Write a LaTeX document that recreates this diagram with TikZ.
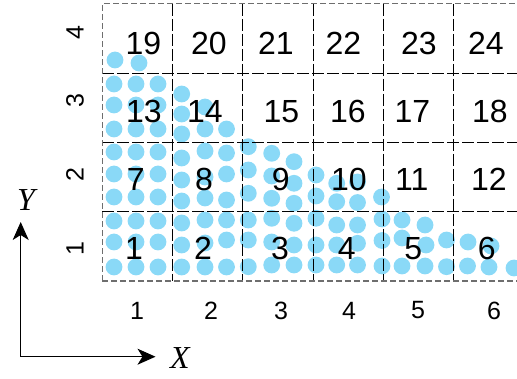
\documentclass[tikz,border=0pt]{standalone}
\usepackage{fontspec}
\setmainfont{Liberation Sans}
\newfontfamily\serifit{Liberation Serif}
\usetikzlibrary{arrows.meta}
\definecolor{dotblue}{HTML}{8AD9F7}
\definecolor{bordergray}{HTML}{6E6E6E}
\tikzset{
  dot/.style={fill=dotblue, draw=none},
  innerline/.style={black, line width=0.8pt, dash pattern=on 12pt off 3pt},
  outerline/.style={bordergray, line width=1.4pt, dash pattern=on 6pt off 3pt},
  cellnum/.style={font=\fontsize{32}{32}\selectfont, inner sep=0pt},
  ticklab/.style={font=\fontsize{25}{25}\selectfont, inner sep=0pt},
  axislab/.style={font=\fontsize{32}{32}\serifit\itshape, inner sep=0pt},
  axisarrow/.style={line width=1pt, -{Stealth[length=18pt, width=16pt, inset=5pt]}}
}
\begin{document}
\begin{tikzpicture}[x=1pt, y=-1pt]
\useasboundingbox (0,0) rectangle (517,379);
% particles
\foreach \px/\py in {115/60, 139/63}
  \fill[dot] (\px,\py) circle (8.4);
\foreach \py in {84,105,129,152,174,197,221,242,267}
  \foreach \px in {114,136,158}
    \fill[dot] (\px,\py) circle (8.4);
\foreach \py in {94,114,134,158,180,201,223,245,267}
  \fill[dot] (181.7,\py) circle (8.4);
\foreach \py in {107,129,151,177,198,220,243,267}
  \fill[dot] (205,\py) circle (8.4);
\foreach \py in {129,153,174,200,220,240,267}
  \fill[dot] (226.5,\py) circle (8.4);
\foreach \px/\py in {248.3/146.7, 248.3/170, 248.3/193.3, 248.3/220, 248.3/240, 248.3/266.7,
  271.7/153.3, 271.7/176, 271.7/198.3, 271.7/218.3, 271.7/242, 271.7/265,
  294/161.7, 294/183.3, 294/203.3, 294/223.3, 294/245, 294/265,
  316/175, 316/196, 316/218.3, 316/245, 316/265,
  336.7/183.3, 336.7/201.7, 336.7/225, 336.7/245, 336.7/265,
  357.5/182, 357.5/202.5, 357.5/225, 357.5/243.3, 357.5/265,
  381.5/197, 382/219, 382/240.5, 382/266,
  402/220, 402/238, 402/266,
  425/225, 426/245, 425/266,
  446.5/240, 446.5/266.7,
  468/242, 491/246, 467.5/266, 489/267, 514/268}
  \fill[dot] (\px,\py) circle (8.4);
% grid
\foreach \gx in {172.3,242.6,312.9,383.2,453.5}
  \draw[innerline] (\gx,4) -- (\gx,281);
\foreach \gy in {73.3,142.6,211.9}
  \draw[innerline] (102,\gy) -- (524,\gy);
\draw[outerline, line width=1pt] (102,281) -- (102,4) -- (524,4);
\draw[outerline] (102,281) -- (524,281);
% cell numbers
\foreach \t/\px/\py in {19/143.3/43.3, 20/209/43.3, 21/275.8/43.3, 22/343.3/43.3, 23/419/43.3, 24/485.8/43.3,
  13/144/111.7, 14/205/111.7, 15/281.5/111.7, 16/348/111.7, 17/412.5/111.7, 18/490/111.7,
  7/135.8/179, 8/204/179, 9/280.8/179, 10/349/179, 11/411.7/179, 12/489/179,
  1/134/248.3, 2/203/248.3, 3/280/248.3, 4/346.7/248.3, 5/413.3/248.3, 6/486.7/248.3}
  \node[cellnum] (c\t) at (\px,\py) {\t};
% tick labels
\foreach \t/\py in {1/249, 2/175, 3/101, 4/33}
  \node[ticklab, rotate=90] (r\t) at (75,\py) {\t};
\foreach \t/\px in {1/137, 2/211, 3/281, 4/349, 5/418, 6/494}
  \node[ticklab] (k\t) at (\px,310.5) {\t};
% axes
\coordinate (o) at (20.7,356.7);
\coordinate (ytip) at (20.7,222);
\coordinate (xtip) at (155.5,356.7);
\draw[axisarrow] (o) -- (ytip);
\draw[axisarrow] (o) -- (xtip);
\node[axislab] (ylab) at (26,200) {Y};
\node[axislab] (xlab) at (180,358) {X};
\end{tikzpicture}
\end{document}
